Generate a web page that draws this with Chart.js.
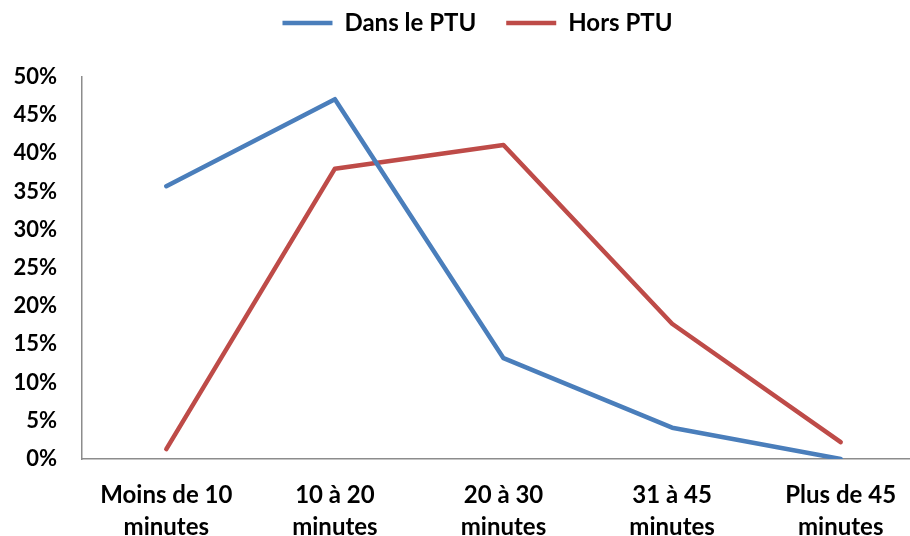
<!DOCTYPE html>
<html>
<head>
<meta charset="utf-8">
<script src="https://cdn.jsdelivr.net/npm/chart.js@4/dist/chart.umd.min.js"></script>
<style>
  html, body { margin: 0; padding: 0; background: #fff; overflow: hidden; }
  #wrap { position: absolute; left: 0; top: 0; width: 910px; height: 536px; overflow: hidden; }
  canvas { position: absolute; left: 0; top: 0; }
</style>
</head>
<body>
<div id="wrap"><canvas id="chart" width="940" height="536"></canvas></div>
<script>
  const categories = [
    ["Moins de 10", "minutes"],
    ["10 à 20", "minutes"],
    ["20 à 30", "minutes"],
    ["31 à 45", "minutes"],
    ["Plus de 45", "minutes"]
  ];
  const dansPTU = [0.357, 0.471, 0.132, 0.041, 0.0];
  const horsPTU = [0.013, 0.380, 0.411, 0.177, 0.022];
  const yTicks = [0, 0.05, 0.10, 0.15, 0.20, 0.25, 0.30, 0.35, 0.40, 0.45, 0.50];

  const FONT = "Lato, 'Liberation Sans', sans-serif";

  // plot area in the reference runs past the right edge of the picture,
  // so the canvas is wider than the window and the legend is nudged
  const shiftLegend = {
    id: "shiftLegend",
    beforeInit(chart) {
      const fit = chart.legend.fit;
      chart.legend.fit = function () {
        fit.call(this);
        this.height = 77;
      };
    },
    afterLayout(chart) {
      chart.legend.left += 15;
      chart.legend.right += 15;
      chart.legend.top -= 19;
    }
  };

  new Chart(document.getElementById("chart"), {
    type: "line",
    data: {
      labels: categories,
      datasets: [
        {
          label: "Dans le PTU",
          data: dansPTU,
          borderColor: "#4a7ebb",
          backgroundColor: "#4a7ebb",
          borderWidth: 4.5,
          pointRadius: 0,
          tension: 0,
          borderCapStyle: "round",
          borderJoinStyle: "round"
        },
        {
          label: "Hors PTU",
          data: horsPTU,
          borderColor: "#be4b48",
          backgroundColor: "#be4b48",
          borderWidth: 4.5,
          pointRadius: 0,
          tension: 0,
          borderCapStyle: "round",
          borderJoinStyle: "round"
        }
      ]
    },
    options: {
      responsive: false,
      animation: false,
      layout: { padding: { left: 0, right: 15, top: 0, bottom: 0 } },
      plugins: {
        tooltip: { enabled: false },
        legend: {
          position: "top",
          labels: {
            usePointStyle: true,
            pointStyle: "line",
            pointStyleWidth: 50,
            padding: 30,
            color: "#000",
            font: { family: FONT, size: 24, weight: "bold" }
          }
        }
      },
      scales: {
        x: {
          offset: true,
          grid: { display: false, drawTicks: false },
          border: { color: "#8c8c8c", width: 1.5 },
          ticks: {
            color: "#000",
            padding: 21,
            maxRotation: 0,
            autoSkip: false,
            font: { family: FONT, size: 24, weight: "bold", lineHeight: 1.3 }
          },
          afterFit(scale) { scale.height = 536 - 459; }
        },
        y: {
          min: 0,
          max: 0.5,
          grid: { display: false, drawTicks: false },
          border: { color: "#8c8c8c", width: 1.5 },
          afterBuildTicks(scale) { scale.ticks = yTicks.map(v => ({ value: v })); },
          ticks: {
            color: "#000",
            padding: 25,
            font: { family: FONT, size: 22, weight: "bold" },
            callback: (v) => Math.round(v * 100) + "%"
          },
          afterFit(scale) { scale.width = 82; }
        }
      }
    },
    plugins: [shiftLegend]
  });
</script>
</body>
</html>
